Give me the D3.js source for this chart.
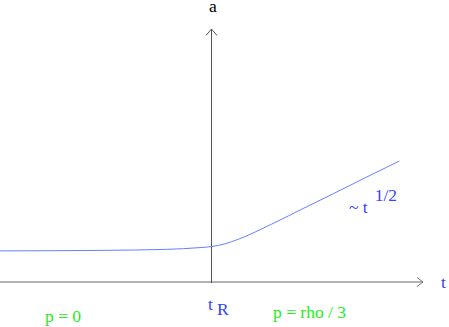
<!DOCTYPE html>
<html>
<head>
<meta charset="utf-8">
<script src="https://cdn.jsdelivr.net/npm/d3@7"></script>
<style>
  body { margin: 0; background: #fff; }
</style>
</head>
<body>
<svg id="chart" width="449" height="327"></svg>
<script>
// scale factor a(t) across the radiation era transition (arbitrary units)
let tValues = [-1.0, -0.527, -0.212, -0.054, 0.0, 0.064, 0.127, 0.285, 0.442, 0.576, 0.734, 0.888];
let aValues = [0.123, 0.125, 0.129, 0.136, 0.140, 0.151, 0.169, 0.229, 0.294, 0.349, 0.415, 0.478];
let tDomain = [-1, 1];
let aDomain = [0, 1];
let tR = 0;
let phaseLabels = ["p = 0", "p = rho / 3"];

let serif = "'Liberation Serif', 'Times New Roman', serif";
let fontSize = "17.5px";
let blueColor = "#3344ff";
let curveColor = "#6680ff";
let greenColor = "#22ee22";

let svg = d3.select("#chart");

let x = d3.scaleLinear().domain(tDomain).range([0, 423]);
let y = d3.scaleLinear().domain(aDomain).range([282, 29]);

// horizontal axis with open arrow
let x0 = x(tDomain[0]), x1 = x(tDomain[1]), yAxis = y(0);
svg.append("line")
    .attr("x1", x0).attr("x2", x1)
    .attr("y1", yAxis).attr("y2", yAxis)
    .style("stroke", "#999")
    .style("stroke-width", "1.5px");
svg.append("path")
    .attr("d", `M${x1 - 6},${yAxis - 4.5}L${x1},${yAxis}L${x1 - 6},${yAxis + 4.5}`)
    .style("fill", "none")
    .style("stroke", "#777")
    .style("stroke-width", "1px");

// vertical axis at t_R with open arrow
let xAxis = x(tR), yTop = y(aDomain[1]);
svg.append("line")
    .attr("x1", xAxis).attr("x2", xAxis)
    .attr("y1", yTop).attr("y2", yAxis + 1)
    .style("stroke", "#555")
    .style("stroke-width", "1px");
svg.append("path")
    .attr("d", `M${xAxis - 5.5},${yTop + 6.5}L${xAxis},${yTop}L${xAxis + 5.5},${yTop + 6.5}`)
    .style("fill", "none")
    .style("stroke", "#555")
    .style("stroke-width", "1px");

// the curve
let line = d3.line()
    .x(function(d, i) { return x(tValues[i]); })
    .y(function(d) { return y(d); })
    .curve(d3.curveMonotoneX);
svg.append("path")
    .datum(aValues)
    .attr("d", line)
    .style("fill", "none")
    .style("stroke", curveColor)
    .style("stroke-width", "1px");

// axis labels
svg.append("text")
    .attr("x", xAxis - 2.5).attr("y", 12)
    .text("a")
    .style("font-family", serif)
    .style("font-size", fontSize)
    .style("fill", "#000");
svg.append("text")
    .attr("x", 441).attr("y", 288)
    .text("t")
    .style("font-family", serif)
    .style("font-size", fontSize)
    .style("fill", blueColor);

// t_R under the axis
let tRLabel = svg.append("text")
    .attr("x", xAxis - 3.5).attr("y", 310)
    .style("font-family", serif)
    .style("font-size", fontSize)
    .style("fill", blueColor);
tRLabel.append("tspan").text("t");
tRLabel.append("tspan").attr("dx", 4).attr("dy", 5).text("R");

// ~ t^(1/2) annotation
let powLabel = svg.append("text")
    .attr("x", 349).attr("y", 212.5)
    .style("font-family", serif)
    .style("font-size", fontSize)
    .style("fill", blueColor);
powLabel.append("tspan").text("~ t");
powLabel.append("tspan").attr("dx", 7).attr("dy", -11.5).text("1/2");

// phase labels
svg.append("text")
    .attr("x", 45).attr("y", 322)
    .text(phaseLabels[0])
    .style("font-family", serif)
    .style("font-size", fontSize)
    .style("fill", greenColor);
svg.append("text")
    .attr("x", 273).attr("y", 318)
    .text(phaseLabels[1])
    .style("font-family", serif)
    .style("font-size", fontSize)
    .style("fill", greenColor);
</script>
</body>
</html>
